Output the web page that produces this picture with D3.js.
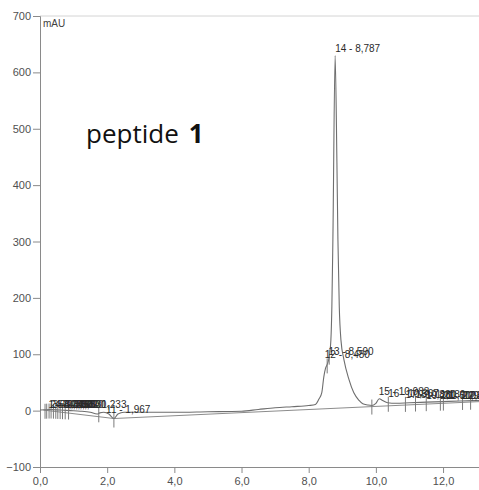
<!DOCTYPE html>
<html>
<head>
<meta charset="utf-8">
<script src="https://cdn.jsdelivr.net/npm/d3@7"></script>
<style>
  body { margin: 0; background: #fff; }
  text { font-family: "Liberation Sans", Arial, sans-serif; }
</style>
</head>
<body>
<script>
const w = 479;
const h = 490;

// chromatogram trace (min, mAU)
const times = [0, 0.3, 0.6, 0.9, 1.2, 1.5, 1.7, 1.78, 1.9, 2.05, 2.2, 2.32, 2.5, 3, 4, 5, 6, 6.5, 7, 7.5, 8.0, 8.2,
  8.3, 8.39, 8.45, 8.5, 8.55, 8.6, 8.66, 8.69, 8.72, 8.787, 8.84, 8.87, 8.91, 8.96, 9.05, 9.2, 9.34, 9.5, 9.61,
  9.75, 9.88, 10.0, 10.1, 10.2, 10.35, 10.6, 11, 11.5, 12, 12.5, 13.1];
const signal = [1, 2, 1, 0, -1, -3, -6, -4, -3, -6, -14, -6, -3, -3, -3, -2, -1, 2, 5, 7, 9, 11,
  20, 32, 60, 75, 82, 92, 125, 185, 303, 630, 440, 303, 185, 125, 90, 55, 32, 18, 12,
  10, 9, 13, 21, 18, 14, 13, 14, 15, 16, 17, 18];

// integration baseline
const baseTimes = [0.1, 2.2, 13.1];
const baseValues = [1, -14, 16];

// peak start/end markers
const markerTimes = [0.15, 0.2, 0.27, 0.33, 0.4, 0.47, 0.53, 0.6, 0.67, 0.75, 0.85, 1.75, 2.2,
  8.55, 8.61, 9.88, 10.37, 10.88, 11.18, 11.5, 11.92, 12.01, 12.58, 12.82];

// peak labels
const peakNums = [1, 2, 3, 4, 5, 6, 7, 8, 9, 10, 11, 12, 13, 14, 15, 16, 17, 18, 19, 20, 21, 22, 23];
const peakTimes = ["0,253", "0,313", "0,380", "0,453", "0,520", "0,580", "0,653", "0,720", "0,800", "1,233", "1,967",
  "8,480", "8,590", "8,787", "10,083", "10,367", "10,880", "11,180", "11,500", "11,920", "12,010", "12,580", "12,820"];
const labelHeights = [5, 5, 5, 5, 5, 5, 5, 5, 5, 5, -4, 93, 99, 637, 28, 25, 22, 22, 21, 21, 21, 20, 20];

const xTicks = [0, 2, 4, 6, 8, 10, 12];
const yTicks = [-100, 0, 100, 200, 300, 400, 500, 600, 700];

const x = d3.scaleLinear().domain([0, 13.1]).range([40, 480]);
const y = d3.scaleLinear().domain([-100, 700]).range([467, 16]);

const svg = d3.select("body").append("svg")
  .attr("width", w)
  .attr("height", h);

// top frame line
svg.append("line")
  .attr("x1", 40).attr("x2", w)
  .attr("y1", y(700)).attr("y2", y(700))
  .attr("stroke", "#d4d4d4");

// axes
const yAxis = d3.axisLeft(y).tickValues(yTicks).tickSize(7).tickPadding(2).tickFormat(d3.format("d"));
const yMinor = d3.axisLeft(y).tickValues(d3.range(-100, 701, 25)).tickSize(4).tickFormat("");
const xAxis = d3.axisBottom(x).tickValues(xTicks).tickSize(6).tickPadding(4)
  .tickFormat(d => d3.format(".1f")(d).replace(".", ","));
const xMinor = d3.axisBottom(x).tickValues(d3.range(0, 13.1, 0.5)).tickSize(3).tickFormat("");

const gy = svg.append("g").attr("transform", "translate(40,0)");
gy.call(yMinor);
gy.call(yAxis);
const gx = svg.append("g").attr("transform", `translate(0,${y(-100)})`);
gx.call(xMinor);
gx.call(xAxis);

svg.selectAll(".domain").attr("stroke", "#8a8a8a");
svg.selectAll(".tick line").attr("stroke", "#8a8a8a");
svg.selectAll(".tick text")
  .attr("fill", "#505050")
  .style("font-size", "11px")
  .style("font-family", "Liberation Sans, Arial, sans-serif");

svg.append("text")
  .attr("x", 43).attr("y", 27)
  .attr("fill", "#404040")
  .style("font-size", "10px")
  .text("mAU");

// helper to read trace value at a time
const bis = d3.bisector(d => d).left;
function sigAt(t) {
  const i = Math.max(1, Math.min(times.length - 1, bis(times, t)));
  const t0 = times[i - 1], t1 = times[i];
  const k = (t - t0) / (t1 - t0);
  return signal[i - 1] + k * (signal[i] - signal[i - 1]);
}

// baseline
svg.append("path")
  .datum(baseTimes.map((t, i) => [t, baseValues[i]]))
  .attr("fill", "none")
  .attr("stroke", "#8c8c8c")
  .attr("stroke-width", 1)
  .attr("d", d3.line().x(d => x(d[0])).y(d => y(d[1])));

// trace
const line = d3.line()
  .x(d => x(d[0]))
  .y(d => y(d[1]))
  .curve(d3.curveMonotoneX);

svg.append("path")
  .datum(times.map((t, i) => [t, signal[i]]))
  .attr("fill", "none")
  .attr("stroke", "#6e6e6e")
  .attr("stroke-width", 1.1)
  .attr("d", line);

// markers
svg.selectAll(".marker")
  .data(markerTimes)
  .enter()
  .append("line")
  .attr("class", "marker")
  .attr("x1", d => x(d)).attr("x2", d => x(d))
  .attr("y1", d => y(sigAt(d)) - 6)
  .attr("y2", d => y(sigAt(d)) + 9)
  .attr("stroke", "#7a7a7a");

// peak labels
const labelTimes = peakTimes.map(s => +s.replace(",", "."));
svg.selectAll(".plabel")
  .data(peakNums)
  .enter()
  .append("text")
  .attr("class", "plabel")
  .attr("x", (d, i) => x(labelTimes[i]))
  .attr("y", (d, i) => y(labelHeights[i]))
  .attr("fill", "#2a2a2a")
  .style("font-size", "10px")
  .text((d, i) => d + " - " + peakTimes[i]);

// title
const title = svg.append("text")
  .attr("x", 86).attr("y", 143)
  .attr("fill", "#111")
  .style("font-family", "'Open Sans', sans-serif")
  .style("font-size", "26px");
title.append("tspan").text("peptide");
title.append("tspan").attr("dx", 10).style("font-weight", "bold").text("1");
</script>
</body>
</html>
